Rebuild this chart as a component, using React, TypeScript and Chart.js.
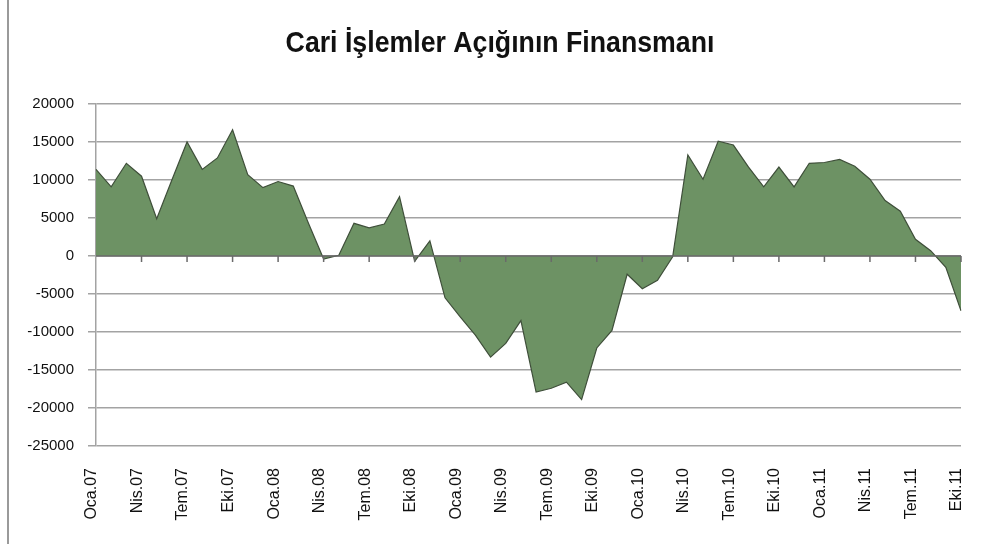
import React, { useEffect, useRef } from "react";
import { Chart, registerables } from "chart.js";

Chart.register(...registerables);

const TITLE = "Cari İşlemler Açığının Finansmanı";
const MONTHS = ["Oca", "Şub", "Mar", "Nis", "May", "Haz", "Tem", "Ağu", "Eyl", "Eki", "Kas", "Ara"];
const YEARS = ["07", "08", "09", "10", "11"];
const LAST_MONTH_INDEX_2011 = 9; // Eki.11

const CATEGORIES: string[] = [];
YEARS.forEach((y, yi) => {
  MONTHS.forEach((m, mi) => {
    if (yi === YEARS.length - 1 && mi > LAST_MONTH_INDEX_2011) return;
    CATEGORIES.push(`${m}.${y}`);
  });
});

const VALUES = [
  11400, 9100, 12200, 10500, 4900, 10000, 15000, 11400, 12900, 16600, 10700, 9000,
  9800, 9200, 4300, -400, 100, 4300, 3700, 4200, 7800, -700, 2000, -5500,
  -8000, -10400, -13300, -11500, -8500, -17900, -17400, -16600, -18900, -12100, -9800, -2400,
  -4300, -3200, -100, 13300, 10100, 15100, 14600, 11700, 9100, 11700, 9100, 12200,
  12300, 12700, 11800, 10100, 7300, 5900, 2200, 700, -1500, -7200,
];

const Y_MIN = -25000;
const Y_MAX = 20000;
const Y_STEP = 5000;

const zeroTicks = {
  id: "zeroTicks",
  afterDatasetsDraw(chart: any) {
    const x = chart.scales.x;
    const y = chart.scales.y;
    const zy = y.getPixelForValue(0);
    const ctx = chart.ctx;
    ctx.save();
    ctx.strokeStyle = "#6a6a6a";
    ctx.lineWidth = 1.5;
    ctx.beginPath();
    ctx.moveTo(chart.chartArea.left, zy);
    ctx.lineTo(chart.chartArea.right, zy);
    CATEGORIES.forEach((_, i) => {
      if (i % 3 === 0 && i > 0) {
        const px = x.getPixelForValue(i);
        ctx.moveTo(px, zy);
        ctx.lineTo(px, zy + 6);
      }
    });
    ctx.stroke();
    ctx.restore();
  },
};

const narrowTitle = {
  id: "narrowTitle",
  afterDraw(chart: any) {
    const ctx = chart.ctx;
    ctx.save();
    ctx.font = "bold 30px 'Liberation Sans', Arial, sans-serif";
    ctx.fillStyle = "#111";
    ctx.textAlign = "center";
    ctx.textBaseline = "middle";
    ctx.translate(500, 44);
    ctx.scale(0.89, 1);
    ctx.fillText(TITLE, 0, 0);
    ctx.restore();
  },
};

export default function App() {
  const ref = useRef<HTMLCanvasElement | null>(null);
  useEffect(() => {
    if (!ref.current) return;
    const chart = new Chart(ref.current, {
      type: "line",
      data: {
        labels: CATEGORIES,
        datasets: [
          {
            data: VALUES,
            fill: "origin",
            backgroundColor: "#6d9264",
            borderColor: "#3f4f3a",
            borderWidth: 1.2,
            pointRadius: 0,
            tension: 0,
          },
        ],
      },
      options: {
        animation: false,
        responsive: true,
        maintainAspectRatio: false,
        layout: { padding: { left: 10, right: 22, top: 104, bottom: 0 } },
        plugins: {
          legend: { display: false },
          tooltip: { enabled: false },
          title: { display: false },
        },
        scales: {
          x: {
            type: "category",
            offset: false,
            grid: { display: false, drawTicks: false },
            border: { display: false },
            afterFit: (s: any) => {
              s.height = 98;
              s.paddingLeft = 0;
              s.paddingRight = 0;
            },
            ticks: {
              autoSkip: false,
              maxRotation: 90,
              minRotation: 90,
              padding: 22,
              labelOffset: -4,
              color: "#111",
              font: { family: "'Liberation Sans', Arial, sans-serif", size: 16 },
              callback: (_v: any, i: number) => (i % 3 === 0 ? CATEGORIES[i] : ""),
            },
          },
          y: {
            min: Y_MIN,
            max: Y_MAX,
            afterFit: (s: any) => {
              s.width = 86;
            },
            grid: { color: "#a3a3a3", lineWidth: 1.5, tickLength: 8 },
            border: { display: true, color: "#a3a3a3", width: 1.5 },
            ticks: {
              stepSize: Y_STEP,
              padding: 14,
              color: "#111",
              font: { family: "'Liberation Sans', Arial, sans-serif", size: 15 },
              callback: (v: any) => String(v),
            },
          },
        },
      },
      plugins: [zeroTicks, narrowTitle],
    });
    return () => chart.destroy();
  }, []);
  return (
    <div style={{ position: "fixed", left: 0, top: 0, width: 983, height: 544, background: "#fff" }}>
      <div style={{ position: "absolute", left: 7, top: 0, width: 2, height: 544, background: "#9a9a9a" }} />
      <canvas ref={ref} />
    </div>
  );
}
